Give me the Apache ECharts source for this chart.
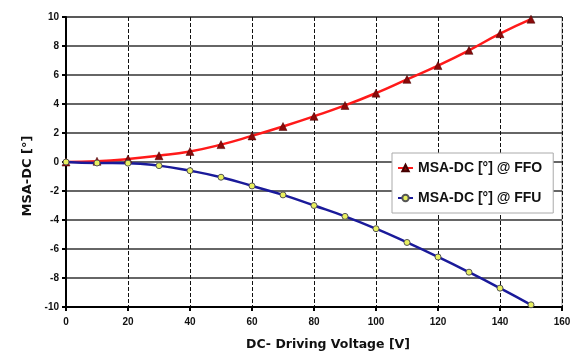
<!DOCTYPE html>
<html><head><meta charset="utf-8">
<script src="https://cdn.jsdelivr.net/npm/echarts@6/dist/echarts.min.js"></script>
<style>html,body{margin:0;padding:0;background:#fff}#c{width:574px;height:351px}</style>
</head><body><div id="c"></div>
<script>
var voltage = [0,10,20,30,40,50,60,70,80,90,100,110,120,130,140,150];
var ffo = [0,0.05,0.2,0.43,0.73,1.2,1.8,2.45,3.15,3.9,4.75,5.7,6.65,7.7,8.85,9.85];
var ffu = [0,-0.07,-0.08,-0.25,-0.6,-1.05,-1.65,-2.27,-3.0,-3.75,-4.6,-5.55,-6.55,-7.6,-8.7,-9.85];
var xTicks = [0,20,40,60,80,100,120,140,160];
var yTicks = [-10,-8,-6,-4,-2,0,2,4,6,8,10];
var nameFFO = 'MSA-DC [°] @ FFO';
var nameFFU = 'MSA-DC [°] @ FFU';

function pairs(xs, ys){ return xs.map(function(x,i){return [x, ys[i]];}); }
var font = 'Liberation Sans, Arial, sans-serif';
var heavy = 'DejaVu Sans, sans-serif';
var chart = echarts.init(document.getElementById('c'), null, {renderer:'canvas'});
chart.setOption({
  animation:false,
  backgroundColor:'#fff',
  grid:{left:66,right:12,top:17,bottom:44,show:true,borderColor:'#999',borderWidth:1,
        containLabel:false,outerBoundsMode:'none'},
  legend:{
    orient:'vertical', left:392, top:153, width:159,
    backgroundColor:'#fff', borderColor:'#aaa', borderWidth:1,
    padding:[8,11,8,5], itemGap:16, itemWidth:15, itemHeight:8,
    textStyle:{fontFamily:font,fontWeight:'bold',fontSize:14,color:'#111'},
    data:[nameFFO,nameFFU]
  },
  xAxis:{
    type:'value', min:0, max:160, interval:20,
    name:'DC- Driving Voltage [V]', nameLocation:'middle', nameGap:31,
    nameTextStyle:{fontFamily:heavy,fontWeight:'bold',fontSize:12.5,color:'#111',padding:[0,0,0,28]},
    axisLine:{show:true,onZero:false,lineStyle:{color:'#000',width:2}},
    axisTick:{show:true,length:4,lineStyle:{color:'#000',width:2}},
    axisLabel:{fontFamily:font,fontWeight:'bold',fontSize:10,color:'#111',margin:10,
      formatter:function(v){return xTicks.indexOf(v)>=0?String(v):'';}},
    splitLine:{show:true,lineStyle:{color:'#111',type:[4,2],width:1}}
  },
  yAxis:{
    type:'value', min:-10, max:10, interval:2,
    name:'MSA-DC [°]', nameLocation:'middle', nameGap:28, nameRotate:90,
    nameTextStyle:{fontFamily:heavy,fontWeight:'bold',fontSize:13,color:'#111',padding:[0,28,0,0]},
    axisLine:{show:true,onZero:false,lineStyle:{color:'#000',width:2}},
    axisTick:{show:true,length:4,lineStyle:{color:'#000',width:2}},
    axisLabel:{fontFamily:font,fontWeight:'bold',fontSize:10,color:'#111',margin:7,
      formatter:function(v){return yTicks.indexOf(v)>=0?String(v):'';}},
    splitLine:{show:true,lineStyle:{color:'#333',width:1.5}}
  },
  series:[
    {name:nameFFO,type:'line',smooth:true,data:pairs(voltage,ffo),
     lineStyle:{color:'#ff1a1a',width:2.5},
     symbol:'triangle',symbolSize:8,
     itemStyle:{color:'#8b0a0a',borderColor:'#400',borderWidth:0.5},
     z:3},
    {name:nameFFU,type:'line',smooth:true,data:pairs(voltage,ffu),
     lineStyle:{color:'#1a1a9a',width:2.5},
     symbol:'circle',symbolSize:6,
     itemStyle:{color:'#e8f060',borderColor:'#555',borderWidth:1},
     z:3}
  ]
});
</script></body></html>
